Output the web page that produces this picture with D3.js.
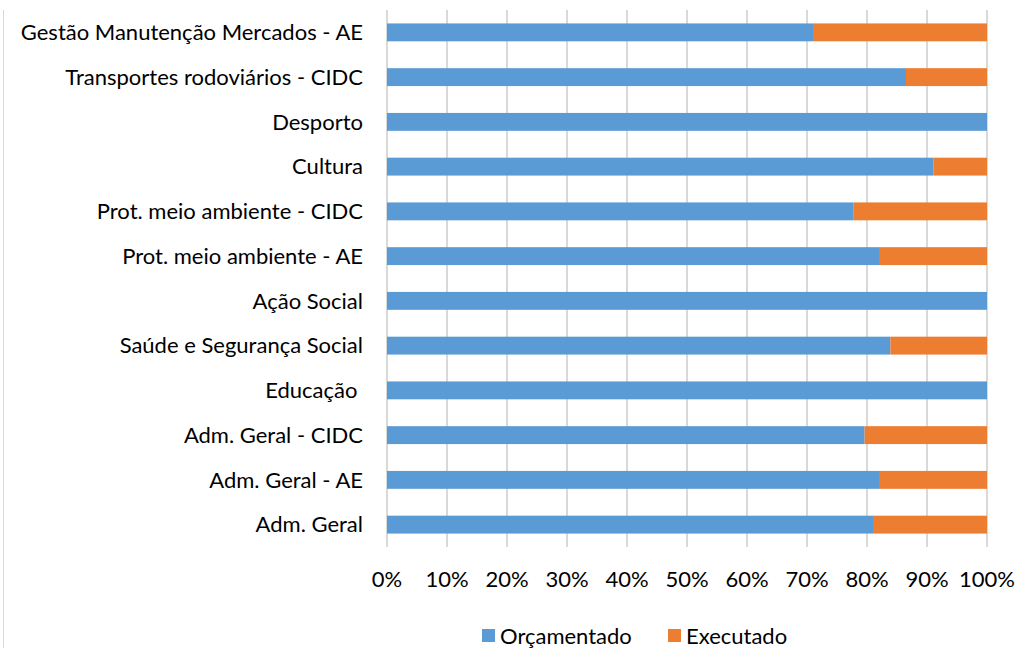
<!DOCTYPE html>
<html>
<head>
<meta charset="utf-8">
<script src="https://cdn.jsdelivr.net/npm/d3@7"></script>
<style>
  body { margin: 0; background: #fff; }
  text { font-family: Lato, "Open Sans", sans-serif; fill: #000; }
</style>
</head>
<body>
<script>
const categories = [
  'Gestão Manutenção Mercados - AE',
  'Transportes rodoviários - CIDC',
  'Desporto',
  'Cultura',
  'Prot. meio ambiente - CIDC',
  'Prot. meio ambiente - AE',
  'Ação Social',
  'Saúde e Segurança Social',
  'Educação ',
  'Adm. Geral - CIDC',
  'Adm. Geral - AE',
  'Adm. Geral'
];
// share of each category (%)
const orcamentado = [71.0, 86.5, 100, 91.1, 77.7, 82.0, 100, 83.9, 100, 79.6, 82.0, 81.0];
const executado = [29.0, 13.5, 0, 8.9, 22.3, 18.0, 0, 16.1, 0, 20.4, 18.0, 19.0];
const seriesNames = ['Orçamentado', 'Executado'];
const colors = ['#5B9BD5', '#ED7D31'];
const xTicks = [0, 0.1, 0.2, 0.3, 0.4, 0.5, 0.6, 0.7, 0.8, 0.9, 1];

const width = 1015;
const height = 648;
const margin = { top: 10, right: 28, bottom: 101, left: 387 };
const fontSize = 22;

const svg = d3.select('body')
  .append('svg')
  .attr('width', width)
  .attr('height', height);

// chart border (only left edge is inside the picture)
svg.append('line')
  .attr('x1', 3.5).attr('x2', 3.5)
  .attr('y1', 10).attr('y2', height)
  .attr('stroke', '#d9d9d9');

const rows = categories.map((c, i) => {
  const total = orcamentado[i] + executado[i];
  return { cat: c, a: orcamentado[i] / total, b: executado[i] / total };
});

const x = d3.scaleLinear()
  .domain([0, 1])
  .range([margin.left, width - margin.right]);

const y = d3.scaleBand()
  .domain(categories)
  .range([margin.top, height - margin.bottom])
  .paddingInner(0.6)
  .paddingOuter(0.3);

// gridlines
svg.append('g')
  .selectAll('line')
  .data(xTicks).enter()
  .append('line')
  .attr('x1', d => x(d)).attr('x2', d => x(d))
  .attr('y1', margin.top).attr('y2', height - margin.bottom)
  .attr('stroke', '#d9d9d9')
  .attr('stroke-width', 2);

const stack = d3.stack().keys(['a', 'b'])(rows);

svg.append('g')
  .selectAll('g')
  .data(stack).enter()
  .append('g')
  .attr('fill', (d, i) => colors[i])
  .selectAll('rect')
  .data(d => d).enter()
  .append('rect')
  .attr('x', d => x(d[0]))
  .attr('width', d => x(d[1]) - x(d[0]))
  .attr('y', d => y(d.data.cat))
  .attr('height', y.bandwidth());

// category labels
svg.append('g')
  .selectAll('text')
  .data(categories).enter()
  .append('text')
  .attr('x', margin.left - 24)
  .attr('y', d => y(d) + y.bandwidth() / 2)
  .attr('dy', '0.35em')
  .attr('text-anchor', 'end')
  .attr('font-size', fontSize)
  .style('white-space', 'pre')
  .text(d => d);

// x axis labels
svg.append('g')
  .selectAll('text')
  .data(xTicks).enter()
  .append('text')
  .attr('x', d => x(d))
  .attr('y', 579)
  .attr('dy', '0.35em')
  .attr('text-anchor', 'middle')
  .attr('font-size', fontSize)
  .text(d3.format('.0%'));

// legend
const legend = svg.append('g');
const legendX = [482, 668];
seriesNames.forEach((name, i) => {
  legend.append('rect')
    .attr('x', legendX[i]).attr('y', 629)
    .attr('width', 13).attr('height', 13)
    .attr('fill', colors[i]);
  legend.append('text')
    .attr('x', legendX[i] + 18).attr('y', 636)
    .attr('dy', '0.35em')
    .attr('font-size', fontSize)
    .text(name);
});
</script>
</body>
</html>
